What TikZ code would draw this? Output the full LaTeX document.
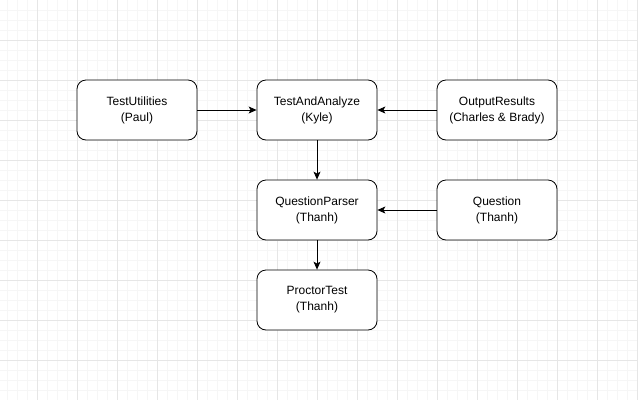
\documentclass[tikz,border=0pt]{standalone}
\usepackage{fontspec}
\setmainfont{Liberation Sans}
\usetikzlibrary{arrows.meta}
\definecolor{gridminor}{HTML}{F6F6F6}
\definecolor{gridmajor}{HTML}{E6E6E6}
\tikzset{
  module/.style={draw, line width=0.8pt, rounded corners=9pt, minimum width=120pt,
    minimum height=60pt, align=center, font=\fontsize{12}{16}\selectfont, fill=white},
  link/.style={line width=0.8pt, -{Stealth[length=8pt,width=7pt,inset=2pt]}}
}
\begin{document}
\begin{tikzpicture}[x=1pt,y=-1pt]
  \useasboundingbox (0,0) rectangle (638,400);
  % Background grid
  \foreach \gx in {7,17,...,637} \draw[gridminor, line width=0.6pt] (\gx,0) -- (\gx,400);
  \foreach \gy in {10,20,...,390} \draw[gridminor, line width=0.6pt] (0,\gy) -- (638,\gy);
  \foreach \gx in {37,77,...,637} \draw[gridmajor, line width=0.6pt] (\gx,0) -- (\gx,400);
  \foreach \gy in {40,80,...,360} \draw[gridmajor, line width=0.6pt] (0,\gy) -- (638,\gy);
  % Modules
  \node[module] (utilities) at (137,110) {TestUtilities\\(Paul)};
  \node[module] (analyze) at (317,110) {TestAndAnalyze\\(Kyle)};
  \node[module] (output) at (497,110) {OutputResults\\(Charles \& Brady)};
  \node[module] (parser) at (317,210) {QuestionParser\\(Thanh)};
  \node[module] (question) at (497,210) {Question\\(Thanh)};
  \node[module] (proctor) at (317,300) {ProctorTest\\(Thanh)};
  % Dependencies
  \draw[link] (utilities) -- (analyze);
  \draw[link] (output) -- (analyze);
  \draw[link] (analyze) -- (parser);
  \draw[link] (question) -- (parser);
  \draw[link] (parser) -- (proctor);
\end{tikzpicture}
\end{document}
